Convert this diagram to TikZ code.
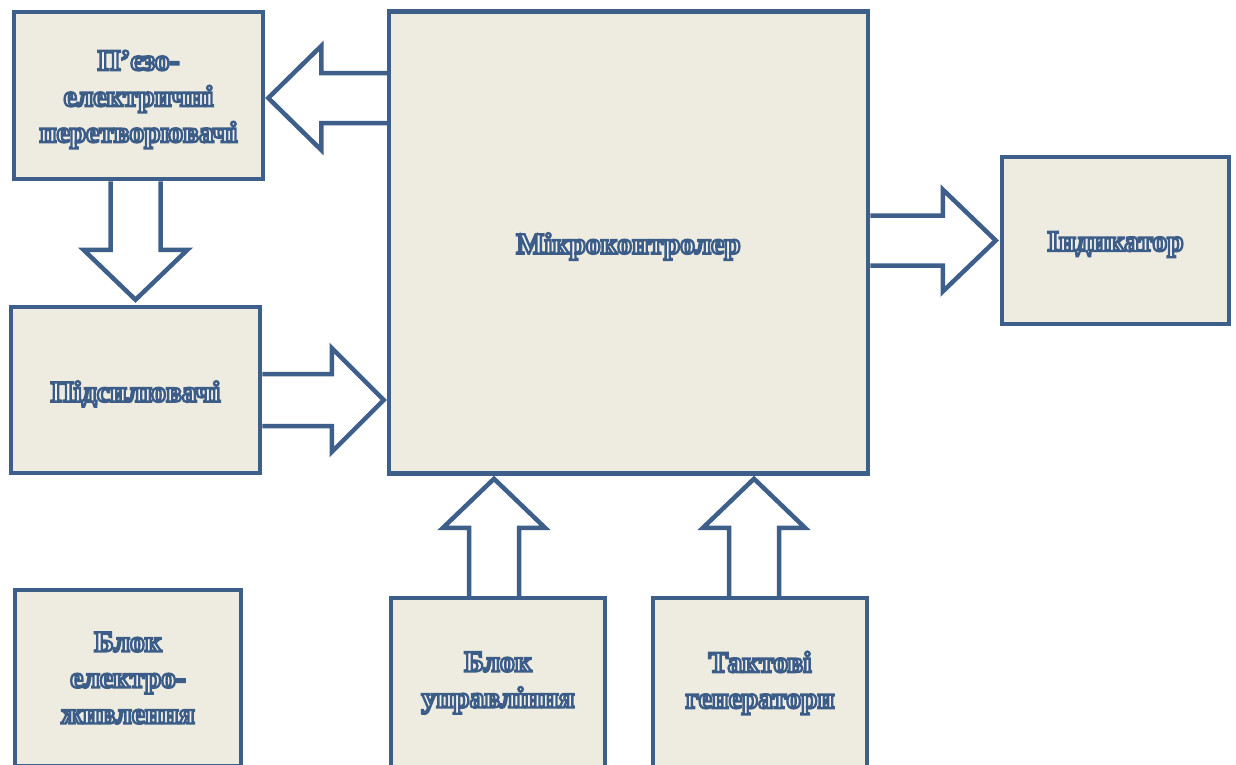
\documentclass[tikz,border=0pt]{standalone}
\usepackage{fontspec}
\setmainfont{Liberation Serif}
\usetikzlibrary{calc}
\definecolor{bord}{RGB}{62,95,138}
\definecolor{boxfill}{RGB}{238,236,225}
\font\outfnt="Liberation Serif/B:embolden=8" at 29.5pt
\def\tdrop{0pt}
\newcommand\outl[1]{\raisebox{-\tdrop}[\height][\depth]{%
  \special{pdf:bcolor [0.96 0.955 0.94] [0.235 0.365 0.53]}#1\special{pdf:ecolor}}}
\tikzset{
  blk/.style={draw=bord, line width=4.5pt, fill=boxfill, inner sep=0pt,
    text=bord, font={\outfnt\baselineskip=36pt\relax}, align=center},
  dropped/.style={execute at begin node={\def\tdrop{4pt}}},
  barrow/.style={draw=bord, line width=4.5pt, fill=white, line join=miter, miter limit=10}
}
\begin{document}
\begin{tikzpicture}[x=1pt,y=-1pt]
\useasboundingbox (0,0) rectangle (1236,764);
% blocks
\node[blk, dropped, minimum width=249pt, minimum height=167pt] (pz) at (138.5,95.5) {\outl{П’єзо-}\\\outl{електричні}\\\outl{перетворювачі}};
\node[blk, dropped, minimum width=479pt, minimum height=462pt] (mc) at (628.5,242.5) {\outl{Мікроконтролер}};
\node[blk, dropped, minimum width=227pt, minimum height=167pt] (ind) at (1115.5,240.5) {\outl{Індикатор}};
\node[blk, dropped, minimum width=249pt, minimum height=166pt] (amp) at (135.5,390) {\outl{Підсилювачі}};
\node[blk, minimum width=226pt, minimum height=176pt] (pwr) at (128,678) {\outl{Блок}\\\outl{електро-}\\\outl{живлення}};
\node[blk, minimum width=214pt, minimum height=170pt] (ctl) at (498,683) {\outl{Блок}\\\outl{управління}};
\node[blk, minimum width=214pt, minimum height=170pt] (gen) at (760,683) {\outl{Тактові}\\\outl{генератори}};
% arrow: microcontroller -> piezo (left)
\coordinate (t1) at (mc.west |- 0,98);
\coordinate (h1) at ($(pz.east |- 0,98)+(3,0)$);
\draw[barrow] ($(t1)+(0,-25)$) -- ($(h1)+(53,-25)$) -- ($(h1)+(53,-52)$) -- (h1)
  -- ($(h1)+(53,52)$) -- ($(h1)+(53,25)$) -- ($(t1)+(0,25)$);
% arrow: piezo -> amplifiers (down)
\coordinate (t2) at (pz.south -| 135.5,0);
\coordinate (h2) at ($(amp.north -| 135.5,0)+(0,-5)$);
\draw[barrow] ($(t2)+(-25,0)$) -- ($(h2)+(-25,-50)$) -- ($(h2)+(-52,-50)$) -- (h2)
  -- ($(h2)+(52,-50)$) -- ($(h2)+(25,-50)$) -- ($(t2)+(25,0)$);
% arrow: amplifiers -> microcontroller (right)
\coordinate (t3) at (amp.east |- 0,400);
\coordinate (h3) at ($(mc.west |- 0,400)+(-3,0)$);
\draw[barrow] ($(t3)+(0,-26)$) -- ($(h3)+(-52,-26)$) -- ($(h3)+(-52,-52)$) -- (h3)
  -- ($(h3)+(-52,52)$) -- ($(h3)+(-52,26)$) -- ($(t3)+(0,26)$);
% arrow: microcontroller -> indicator (right)
\coordinate (t4) at (mc.east |- 0,240.5);
\coordinate (h4) at ($(ind.west |- 0,240.5)+(-4,0)$);
\draw[barrow] ($(t4)+(0,-25)$) -- ($(h4)+(-53,-25)$) -- ($(h4)+(-53,-51)$) -- (h4)
  -- ($(h4)+(-53,51)$) -- ($(h4)+(-53,25)$) -- ($(t4)+(0,25)$);
% arrow: control -> microcontroller (up)
\coordinate (t5) at (ctl.north -| 494,0);
\coordinate (h5) at ($(mc.south -| 494,0)+(0,3)$);
\draw[barrow] ($(t5)+(-25,0)$) -- ($(h5)+(-25,49)$) -- ($(h5)+(-51,49)$) -- (h5)
  -- ($(h5)+(51,49)$) -- ($(h5)+(25,49)$) -- ($(t5)+(25,0)$);
% arrow: generators -> microcontroller (up)
\coordinate (t6) at (gen.north -| 754,0);
\coordinate (h6) at ($(mc.south -| 754,0)+(0,3)$);
\draw[barrow] ($(t6)+(-25,0)$) -- ($(h6)+(-25,49)$) -- ($(h6)+(-51,49)$) -- (h6)
  -- ($(h6)+(51,49)$) -- ($(h6)+(25,49)$) -- ($(t6)+(25,0)$);
\end{tikzpicture}
\end{document}
